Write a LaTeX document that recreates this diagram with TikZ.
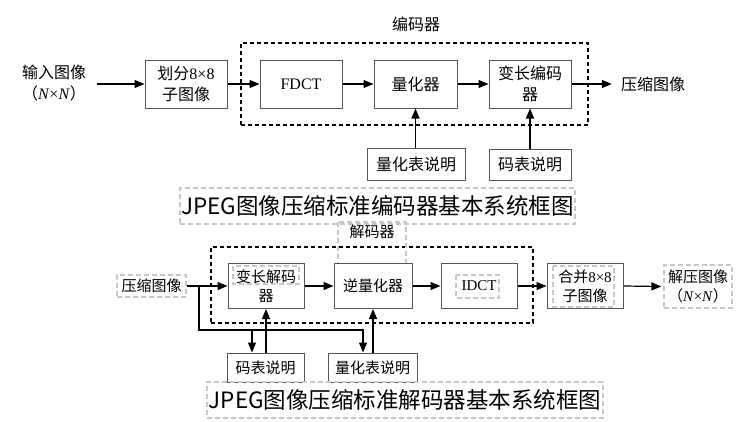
\documentclass[tikz,border=0pt]{standalone}
\usepackage{fontspec}
\setmainfont{Liberation Serif}
\newfontfamily\cjk{Noto Sans CJK SC}
\usetikzlibrary{arrows.meta,calc}
\definecolor{boxgray}{RGB}{85,85,85}
\definecolor{lightdash}{RGB}{200,200,200}
\tikzset{
  efont/.style={font=\fontsize{16}{21}\selectfont},
  dfont/.style={font=\fontsize{15}{19}\selectfont},
  blk/.style={draw=boxgray, line width=1pt, inner sep=0pt, align=center, fill=white},
  lbl/.style={inner sep=0pt, align=center},
  ghost/.style={draw=lightdash, line width=1.3pt, dash pattern=on 5pt off 3pt},
  ghostbox/.style={ghost, inner sep=0pt, align=center},
  framebox/.style={draw=black, line width=2pt, dash pattern=on 4pt off 3pt, inner sep=0pt},
  capbox/.style={ghost, inner sep=0pt, font=\cjk\fontsize{22.5}{27}\selectfont},
  arr/.style={draw=black, line width=1.2pt, -{Triangle[length=10pt,width=8pt]}},
  ln/.style={draw=black, line width=1.2pt}
}
\begin{document}
\begin{tikzpicture}[x=1pt,y=-1pt]
\useasboundingbox (0,0) rectangle (752,421);
\fill[white] (0,0) rectangle (752,421);

% ---------------- encoder ----------------
\node[framebox, minimum width=347, minimum height=82] (enc) at (414.5,84) {};
\node[lbl, efont] (enclbl) at (416,24) {{\cjk 编码器}};
\node[lbl, efont] (inimg) at (54,83) {{\cjk 输入图像}\\{\cjk （}\textit{N}×\textit{N}{\cjk ）}};
\node[blk, efont, minimum width=82, minimum height=48] (div) at (186,84) {{\cjk 划分}8×8\\{\cjk 子图像}};
\node[blk, efont, minimum width=82, minimum height=48] (fdct) at (301,84) {FDCT};
\node[blk, efont, minimum width=83, minimum height=48] (quant) at (415.5,84) {{\cjk 量化器}};
\node[blk, efont, minimum width=82, minimum height=48] (vlc) at (530,84) {{\cjk 变长编码}\\{\cjk 器}};
\node[lbl, efont, inner xsep=9pt] (outimg) at (653,84) {{\cjk 压缩图像}};
\node[blk, efont, minimum width=98, minimum height=32] (qtab) at (416,164) {{\cjk 量化表说明}};
\node[blk, efont, minimum width=82, minimum height=31] (ctab) at (530,164.5) {{\cjk 码表说明}};
\node[capbox, minimum width=395, minimum height=36] (cap1) at (377.5,206) {JPEG图像压缩标准编码器基本系统框图};

\coordinate (inarr) at ($(inimg.east |- div.west)+(11,0)$);
\draw[arr] (inarr) -- (div.west);
\draw[arr] (div.east) -- (fdct.west);
\draw[arr] (fdct.east) -- (quant.west);
\draw[arr] (quant.east) -- (vlc.west);
\draw[arr] (vlc.east) -- (outimg.west);
\draw[arr] (quant.south |- qtab.north) -- (quant.south);
\draw[arr] (ctab.north) -- (vlc.south);

% ---------------- decoder ----------------
\node[framebox, minimum width=322, minimum height=76] (dec) at (372,285) {};
\draw[ghost] (338,222) rectangle (406,297);
\node[lbl, dfont] (declbl) at (372,232) {{\cjk 解码器}};
\node[ghostbox, dfont, minimum width=69, minimum height=22] (cin) at (151.5,286) {{\cjk 压缩图像}};
\node[blk, dfont, minimum width=76, minimum height=45] (vld) at (266,286) {{\cjk 变长解码}\\{\cjk 器}};
\node[blk, dfont, minimum width=78, minimum height=45] (iq) at (373,286) {{\cjk 逆量化器}};
\node[blk, dfont, minimum width=76, minimum height=45] (idct) at (479,286) {IDCT};
\node[blk, dfont, minimum width=76, minimum height=45] (merge) at (585,286) {{\cjk 合并}8×8\\{\cjk 子图像}};
\node[ghostbox, dfont, minimum width=68, minimum height=43] (dout) at (698,286.5) {{\cjk 解压图像}\\{\cjk （}\textit{N}×\textit{N}{\cjk ）}};
\node[blk, dfont, minimum width=77, minimum height=29] (ctab2) at (265.5,367.5) {{\cjk 码表说明}};
\node[blk, dfont, minimum width=89, minimum height=29] (qtab2) at (372.5,367.5) {{\cjk 量化表说明}};
\node[capbox, minimum width=396, minimum height=36] (cap2) at (405,400) {JPEG图像压缩标准解码器基本系统框图};

% light text-box outlines inside blocks
\draw[ghost] (233,266) rectangle (299,284);
\draw[ghost] (456,275) rectangle (499,298);
\draw[ghost] (553,266) rectangle (614,307);

\draw[arr] (cin.east) -- (vld.west);
\draw[arr] (vld.east) -- (iq.west);
\draw[arr] (iq.east) -- (idct.west);
\draw[arr] (idct.east) -- (merge.west);
\draw[arr] (merge.east) -- ([xshift=-2pt]dout.west);

\coordinate (b0) at (199,286);
\coordinate (b1) at (199,330);
\draw[arr] (b0) -- (b1) -| ([xshift=-9.5pt]qtab2.north);
\draw[arr] ([xshift=-13.5pt]ctab2.north |- b1) -- ([xshift=-13.5pt]ctab2.north);
\draw[arr] (vld.south |- ctab2.north) -- (vld.south);
\draw[arr] (iq.south |- qtab2.north) -- (iq.south);
\end{tikzpicture}
\end{document}
